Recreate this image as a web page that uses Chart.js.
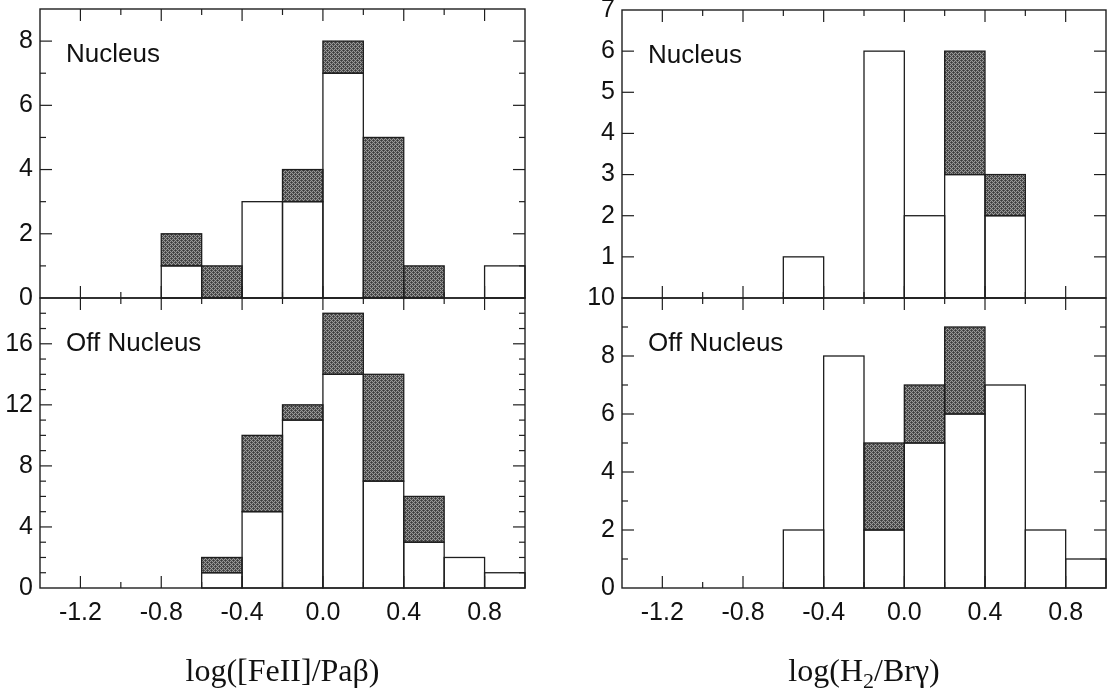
<!DOCTYPE html>
<html>
<head>
<meta charset="utf-8">
<script src="https://cdn.jsdelivr.net/npm/chart.js@4"></script>
<style>
  html, body { margin: 0; padding: 0; background: #fff; }
  #wrap { position: relative; width: 1112px; height: 692px; overflow: hidden; background: #fff; }
  #wrap canvas { position: absolute; left: 0; top: 0; }
</style>
</head>
<body>
<div id="wrap">
  <canvas id="feNuc" width="1112" height="692"></canvas>
  <canvas id="feOff" width="1112" height="692"></canvas>
  <canvas id="h2Nuc" width="1112" height="692"></canvas>
  <canvas id="h2Off" width="1112" height="692"></canvas>
</div>
<script>
// Histogram bins: 0.2 dex wide, centred on these values
const binCenters = [-1.3, -1.1, -0.9, -0.7, -0.5, -0.3, -0.1, 0.1, 0.3, 0.5, 0.7, 0.9];
const xTickValues = [-1.2, -0.8, -0.4, 0.0, 0.4, 0.8];
const xTickLabels = ['-1.2', '-0.8', '-0.4', '0.0', '0.4', '0.8'];

// log([FeII]/Paβ) — nucleus: open and shaded counts per bin
const feNucOpen   = [0, 0, 0, 1, 0, 3, 3, 7, 0, 0, 0, 1];
const feNucShaded = [0, 0, 0, 1, 1, 0, 1, 1, 5, 1, 0, 0];
// log([FeII]/Paβ) — off nucleus
const feOffOpen   = [0, 0, 0, 0, 1, 5, 11, 14, 7, 3, 2, 1];
const feOffShaded = [0, 0, 0, 0, 1, 5, 1, 4, 7, 3, 0, 0];
// log(H2/Brγ) — nucleus
const h2NucOpen   = [0, 0, 0, 0, 1, 0, 6, 2, 3, 2, 0, 0];
const h2NucShaded = [0, 0, 0, 0, 0, 0, 0, 0, 3, 1, 0, 0];
// log(H2/Brγ) — off nucleus
const h2OffOpen   = [0, 0, 0, 0, 2, 8, 2, 5, 6, 7, 2, 1];
const h2OffShaded = [0, 0, 0, 0, 0, 0, 3, 2, 3, 0, 0, 0];

// labelled y ticks of each panel
const feNucYTicks = [0, 2, 4, 6, 8];
const feOffYTicks = [0, 4, 8, 12, 16];
const h2NucYTicks = [1, 2, 3, 4, 5, 6, 7];
const h2OffYTicks = [0, 2, 4, 6, 8, 10];

const panelNucleus = 'Nucleus';
const panelOff = 'Off Nucleus';
const feTitleParts = [{ text: 'log([FeII]/Paβ)' }];
const h2TitleParts = [{ text: 'log(H' }, { text: '2', sub: true }, { text: '/Brγ)' }];

const SANS = '"Liberation Sans", Arial, Helvetica, sans-serif';
const SERIF = '"Liberation Serif", "Times New Roman", serif';
const INK = '#1e1e1e';
const TEXT = '#111';

// stippled grey fill for the shaded part of each bar
function stipple() {
  const c = document.createElement('canvas');
  c.width = 4; c.height = 4;
  const g = c.getContext('2d');
  g.fillStyle = '#999';
  g.fillRect(0, 0, 4, 4);
  g.fillStyle = '#505050';
  [[0, 0], [2, 0], [1, 1], [3, 1], [0, 2], [2, 2], [1, 3], [3, 3]].forEach(([px, py]) => g.fillRect(px, py, 1, 1));
  g.fillStyle = '#3c3c3c';
  g.fillRect(1, 0, 1, 1);
  g.fillRect(3, 2, 1, 1);
  return g.createPattern(c, 'repeat');
}
const shade = stipple();

function minorValues(min, max, step, majors) {
  if (!step) return [];
  const out = [];
  for (let k = Math.ceil(min / step - 1e-9); k * step <= max + 1e-9; k++) {
    const v = +(k * step).toFixed(6);
    if (v <= min + 1e-9 || v >= max - 1e-9) continue;
    if (majors.some(m => Math.abs(m - v) < 1e-6)) continue;
    out.push(v);
  }
  return out;
}

// bar outlines (one shared line between neighbouring bars), then the box with inward ticks
const framePlugin = {
  id: 'frame',
  afterDatasetsDraw(chart, args, opts) {
    const { ctx, chartArea: a } = chart;
    const x = chart.scales.x, y = chart.scales.y;
    ctx.save();
    ctx.strokeStyle = INK;
    ctx.lineWidth = 1.3;
    chart.data.datasets.forEach((ds, di) => {
      chart.getDatasetMeta(di).data.forEach(el => {
        const p = el.getProps(['x', 'y', 'base', 'width'], true);
        if (p.y == null || isNaN(p.y) || Math.abs(p.base - p.y) < 0.5) return;
        ctx.strokeRect(p.x - p.width / 2, Math.min(p.y, p.base), p.width, Math.abs(p.base - p.y));
      });
    });
    ctx.lineWidth = 1.4;
    ctx.strokeRect(a.left, a.top, a.right - a.left, a.bottom - a.top);
    ctx.lineWidth = 1.2;
    const seg = (x1, y1, x2, y2) => { ctx.beginPath(); ctx.moveTo(x1, y1); ctx.lineTo(x2, y2); ctx.stroke(); };
    const xs = (vals, len) => vals.forEach(v => {
      const p = x.getPixelForValue(v);
      seg(p, a.top, p, a.top + len);
      seg(p, a.bottom, p, a.bottom - len);
    });
    const ys = (vals, len) => vals.forEach(v => {
      const p = y.getPixelForValue(v);
      seg(a.left, p, a.left + len, p);
      seg(a.right, p, a.right - len, p);
    });
    const xMajor = x.ticks.map(t => t.value);
    const yMajor = y.ticks.map(t => t.value).filter(v => v > y.min && v < y.max);
    xs(xMajor, opts.major);
    xs(minorValues(x.min, x.max, opts.xMinor, xMajor), opts.minor);
    ys(yMajor, opts.major);
    ys(minorValues(y.min, y.max, opts.yMinor, y.ticks.map(t => t.value)), opts.minor);
    ctx.restore();
  }
};

// panel name in the upper-left corner and the caption under the x axis
const textPlugin = {
  id: 'panelText',
  afterDraw(chart, args, opts) {
    const { ctx, chartArea: a } = chart;
    ctx.save();
    ctx.fillStyle = TEXT;
    ctx.textBaseline = 'alphabetic';
    ctx.textAlign = 'left';
    ctx.font = `26px ${SANS}`;
    ctx.fillText(opts.name, a.left + 26, a.top + 53);
    if (opts.caption) {
      const big = `32px ${SERIF}`, small = `22px ${SERIF}`;
      let w = 0;
      opts.caption.forEach(p => { ctx.font = p.sub ? small : big; w += ctx.measureText(p.text).width; });
      let cx = (a.left + a.right) / 2 - w / 2;
      const base = a.bottom + 93;
      opts.caption.forEach(p => {
        ctx.font = p.sub ? small : big;
        ctx.fillText(p.text, cx, base + (p.sub ? 7 : 0));
        cx += ctx.measureText(p.text).width;
      });
    }
    ctx.restore();
  }
};

function makePanel(id, cfg) {
  const pts = arr => binCenters.map((c, i) => ({ x: c, y: arr[i] === 0 ? null : arr[i] }));
  const bar = { borderWidth: 0, borderSkipped: false, barPercentage: 1, categoryPercentage: 1, inflateAmount: 0 };
  const xHeight = cfg.xLabels ? 50 : 0;
  const pad = Object.assign({}, cfg.padding, { bottom: cfg.padding.bottom - xHeight });
  return new Chart(document.getElementById(id), {
    type: 'bar',
    data: {
      datasets: [
        Object.assign({ label: 'open', data: pts(cfg.open), backgroundColor: '#ffffff' }, bar),
        Object.assign({ label: 'shaded', data: pts(cfg.shaded), backgroundColor: shade }, bar)
      ]
    },
    options: {
      responsive: false,
      animation: false,
      devicePixelRatio: 1,
      events: [],
      layout: { padding: pad },
      plugins: {
        legend: { display: false },
        tooltip: { enabled: false },
        frame: { major: 12, minor: 6, xMinor: 0.2, yMinor: cfg.yMinor },
        panelText: { name: cfg.name, caption: cfg.caption }
      },
      scales: {
        x: {
          type: 'linear', offset: false, stacked: true,
          min: -1.4, max: 1.0,
          grid: { display: false, drawTicks: false }, border: { display: false },
          afterBuildTicks: s => { s.ticks = xTickValues.map(v => ({ value: v })); },
          ticks: {
            display: cfg.xLabels, autoSkip: false, maxRotation: 0, padding: 10,
            color: TEXT, font: { family: SANS, size: 25 },
            callback: (v, i) => xTickLabels[i]
          },
          afterFit: s => { s.height = xHeight; s.paddingLeft = 0; s.paddingRight = 0; }
        },
        y: {
          type: 'linear', stacked: true,
          min: 0, max: cfg.yMax,
          grid: { display: false, drawTicks: false }, border: { display: false },
          afterBuildTicks: s => { s.ticks = cfg.yTicks.map(v => ({ value: v })); },
          ticks: {
            autoSkip: false, padding: 7,
            color: TEXT, font: { family: SANS, size: 25 },
            callback: v => String(v)
          },
          afterFit: s => { s.width = 40; s.paddingTop = 0; s.paddingBottom = 0; }
        }
      }
    },
    plugins: [framePlugin, textPlugin]
  });
}

makePanel('feNuc', {
  open: feNucOpen, shaded: feNucShaded, yMax: 9, yTicks: feNucYTicks, yMinor: 1,
  name: panelNucleus, xLabels: false,
  padding: { left: 0, right: 587, top: 9, bottom: 394 }
});
makePanel('feOff', {
  open: feOffOpen, shaded: feOffShaded, yMax: 19, yTicks: feOffYTicks, yMinor: 1,
  name: panelOff, xLabels: true, caption: feTitleParts,
  padding: { left: 0, right: 587, top: 298, bottom: 104 }
});
makePanel('h2Nuc', {
  open: h2NucOpen, shaded: h2NucShaded, yMax: 7, yTicks: h2NucYTicks, yMinor: null,
  name: panelNucleus, xLabels: false,
  padding: { left: 582, right: 6, top: 10, bottom: 394 }
});
makePanel('h2Off', {
  open: h2OffOpen, shaded: h2OffShaded, yMax: 10, yTicks: h2OffYTicks, yMinor: 1,
  name: panelOff, xLabels: true, caption: h2TitleParts,
  padding: { left: 582, right: 6, top: 298, bottom: 104 }
});
</script>
</body>
</html>
